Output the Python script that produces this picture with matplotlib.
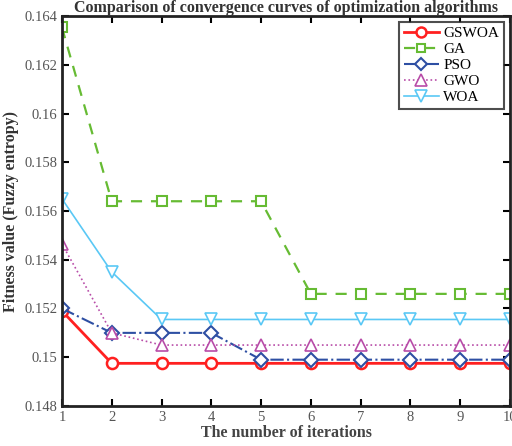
import matplotlib.pyplot as plt

iterations = [1, 2, 3, 4, 5, 6, 7, 8, 9, 10]
gswoa = [0.1519, 0.14975, 0.14975, 0.14975, 0.14975, 0.14975, 0.14975, 0.14975, 0.14975, 0.14975]
ga = [0.16353, 0.1564, 0.1564, 0.1564, 0.1564, 0.1526, 0.1526, 0.1526, 0.1526, 0.1526]
pso = [0.1520, 0.1510, 0.1510, 0.1510, 0.1499, 0.1499, 0.1499, 0.1499, 0.1499, 0.1499]
gwo = [0.15465, 0.1510, 0.1505, 0.1505, 0.1505, 0.1505, 0.1505, 0.1505, 0.1505, 0.1505]
woa = [0.1565, 0.1535, 0.15155, 0.15155, 0.15155, 0.15155, 0.15155, 0.15155, 0.15155, 0.15155]

plt.rcParams['font.family'] = ['Liberation Serif', 'DejaVu Serif']

fig = plt.figure(figsize=(5.12, 4.46), dpi=100)
ax = fig.add_axes([0.121, 0.0897, 0.875, 0.8744])

ax.plot(iterations, gswoa, color='#ff2020', linestyle='-', linewidth=2, marker='o',
        markersize=8, markerfacecolor='white', markeredgewidth=1.8, label='GSWOA')
ax.plot(iterations, ga, color='#66bb33', linestyle='--', linewidth=1.6, marker='s',
        markersize=7, markerfacecolor='white', markeredgewidth=1.5, label='GA', dashes=(5, 4))
ax.plot(iterations, pso, color='#2e4fa3', linestyle='-.', linewidth=1.5, marker='D',
        markersize=7, markerfacecolor='white', markeredgewidth=1.5, label='PSO')
ax.plot(iterations, gwo, color='#b84ca8', linestyle=':', linewidth=1.2, marker='^',
        markersize=9, markerfacecolor='white', markeredgewidth=1.2, label='GWO')
ax.plot(iterations, woa, color='#5ac8f5', linestyle='-', linewidth=1.2, marker='v',
        markersize=9, markerfacecolor='white', markeredgewidth=1.2, label='WOA')

ax.set_xlim(1, 10)
ax.set_ylim(0.148, 0.164)
ax.set_xticks(iterations)
ax.set_yticks([0.148, 0.15, 0.152, 0.154, 0.156, 0.158, 0.16, 0.162, 0.164])
ax.set_yticklabels(['0.148', '0.15', '0.152', '0.154', '0.156', '0.158', '0.16', '0.162', '0.164'])

ax.tick_params(direction='in', top=True, right=True, length=5, width=1.5,
               labelsize=10.5, labelcolor='#555555')
for s in ax.spines.values():
    s.set_linewidth(2)
    s.set_color('#222222')

ax.set_xlabel('The number of iterations', fontsize=11.5, fontweight='bold', color='#444444', labelpad=1)
ax.set_ylabel('Fitness value (Fuzzy entropy)', fontsize=11.5, fontweight='bold', color='#333333', labelpad=4)
ax.set_title('Comparison of convergence curves of optimization algorithms', fontsize=11.5,
             fontweight='bold', color='#333333', pad=3)

leg = ax.legend(loc='upper right', fontsize=11, frameon=True, fancybox=False,
                edgecolor='#222222', borderaxespad=0.4, handlelength=2.3, labelspacing=0.15,
                borderpad=0.3, handletextpad=0.3, markerscale=0.9)
leg.get_frame().set_linewidth(1.5)

fig.savefig('out.png', dpi=100)
